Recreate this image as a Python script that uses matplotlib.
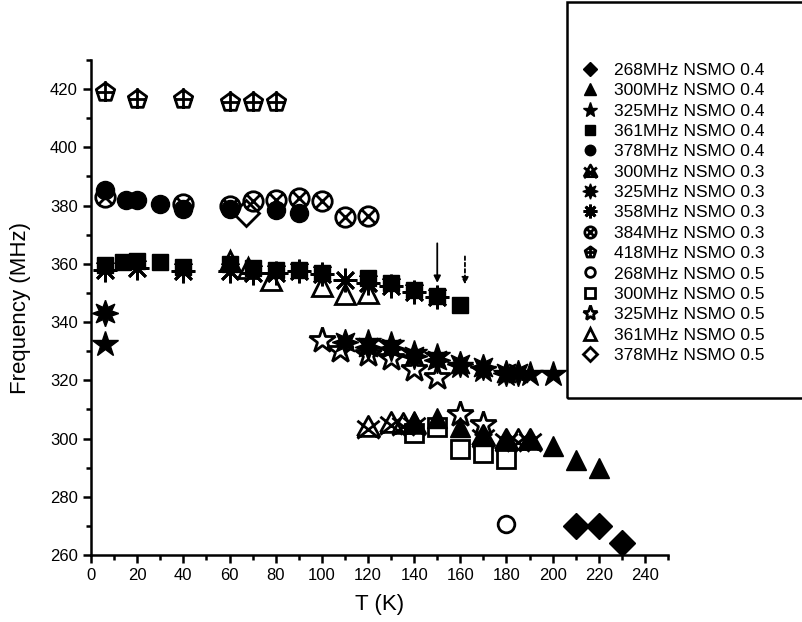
import numpy as np
import matplotlib
matplotlib.use("Agg")
import matplotlib.pyplot as plt
from matplotlib.path import Path
from matplotlib.patches import Rectangle
from matplotlib.ticker import MultipleLocator

plt.rcParams['font.family'] = ['Liberation Sans', 'DejaVu Sans']

# ---- data (T in K, frequency in MHz) ----
t_268_04 = [210, 220, 230]
f_268_04 = [270, 270, 264]

t_300_04 = [140, 150, 160, 170, 180, 190, 200, 210, 220]
f_300_04 = [306, 307, 304, 301, 300, 300, 297.5, 292.5, 290]

t_325_04 = [6, 120, 130, 140, 150, 160, 170, 180, 190, 200]
f_325_04 = [332.5, 333, 332.5, 329.5, 328.5, 325, 323.5, 322, 322, 322]

t_361_04 = [6, 14, 20, 30, 40, 60, 70, 80, 90, 100, 120, 130, 140, 150, 160]
f_361_04 = [359.5, 360.5, 361, 360.5, 359, 360, 358.5, 358, 358, 357, 355, 353.5, 351, 349, 346]

t_378_04 = [6, 15, 20, 30, 40, 60, 80, 90]
f_378_04 = [385.5, 382, 382, 380.5, 379, 379, 378.5, 377.5]

t_300_03 = [120, 130, 135, 140, 170, 180, 185, 190]
f_300_03 = [304, 305.5, 305, 305, 301, 299.5, 299.5, 299.5]

t_325_03 = [6, 110, 120, 130, 140, 150, 160, 170, 180, 185]
f_325_03 = [343, 333, 331.5, 331, 328.5, 327, 325.5, 324.5, 322.5, 322.5]

t_358_03 = [6, 20, 40, 60, 70, 80, 90, 100, 110, 120, 130, 140, 150]
f_358_03 = [358, 358.5, 357.5, 357.5, 357, 357, 357.5, 356.5, 354.5, 353.5, 352.5, 350.5, 348.5]

t_384_03 = [6, 40, 60, 70, 80, 90, 100, 110, 120]
f_384_03 = [383, 380.5, 380, 381.5, 382, 382.5, 381.5, 376, 376.5]

t_418_03 = [6, 20, 40, 60, 70, 80]
f_418_03 = [419, 416.5, 416.5, 415.5, 415.5, 415.5]

t_268_05 = [180]
f_268_05 = [270.5]

t_300_05 = [140, 150, 160, 170, 180]
f_300_05 = [302, 304, 296.5, 295, 293]

t_325_05 = [100, 108, 120, 130, 140, 150, 160, 170]
f_325_05 = [334, 330.5, 329, 327.5, 324, 321, 308.5, 305]

t_361_05 = [60, 68, 78, 100, 110, 120]
f_361_05 = [361, 358.5, 354.5, 352.5, 349.5, 350]

t_378_05 = [67]
f_378_05 = [377.5]

# ---- custom marker shapes ----
M, L = Path.MOVETO, Path.LINETO

tri_x = Path([(-1, -0.8), (1, -0.8), (0, 1), (-1, -0.8),
              (-1, 0.6), (1, -1), (1, 0.6), (-1, -1)],
             [M, L, L, L, M, L, M, L])

c = 0.72
circ_x = Path.make_compound_path(
    Path.unit_circle(),
    Path([(-c, -c), (c, c), (-c, c), (c, -c)], [M, L, M, L]))

pent_plus = Path.make_compound_path(
    Path.unit_regular_polygon(5),
    Path([(0, 1.15), (0, -0.95), (-0.95, 0.0), (0.95, 0.0)], [M, L, M, L]))

fig = plt.figure(figsize=(8.02, 6.22), dpi=100)
ax = fig.add_axes([0.1135, 0.1077, 0.7195, 0.7958])

series = [
    (t_268_04, f_268_04, dict(marker='D', ms=13, mfc='k', mec='k'), '268MHz NSMO 0.4'),
    (t_300_04, f_300_04, dict(marker='^', ms=15, mfc='k', mec='k'), '300MHz NSMO 0.4'),
    (t_325_04, f_325_04, dict(marker='*', ms=19, mfc='k', mec='k'), '325MHz NSMO 0.4'),
    (t_361_04, f_361_04, dict(marker='s', ms=12, mfc='k', mec='k'), '361MHz NSMO 0.4'),
    (t_378_04, f_378_04, dict(marker='o', ms=13, mfc='k', mec='k'), '378MHz NSMO 0.4'),
    (t_300_03, f_300_03, dict(marker=tri_x, ms=16, mfc='none', mec='k', mew=2), '300MHz NSMO 0.3'),
    (t_325_03, f_325_03, dict(marker=(8, 1, 0), ms=19, mfc='k', mec='k'), '325MHz NSMO 0.3'),
    (t_358_03, f_358_03, dict(marker=(8, 2, 0), ms=17, mec='k', mew=2), '358MHz NSMO 0.3'),
    (t_384_03, f_384_03, dict(marker=circ_x, ms=14, mfc='none', mec='k', mew=2), '384MHz NSMO 0.3'),
    (t_418_03, f_418_03, dict(marker=pent_plus, ms=16, mfc='none', mec='k', mew=2), '418MHz NSMO 0.3'),
    (t_268_05, f_268_05, dict(marker='o', ms=12, mfc='none', mec='k', mew=2), '268MHz NSMO 0.5'),
    (t_300_05, f_300_05, dict(marker='s', ms=13, mfc='none', mec='k', mew=2), '300MHz NSMO 0.5'),
    (t_325_05, f_325_05, dict(marker='*', ms=19, mfc='none', mec='k', mew=2), '325MHz NSMO 0.5'),
    (t_361_05, f_361_05, dict(marker='^', ms=15, mfc='none', mec='k', mew=2), '361MHz NSMO 0.5'),
    (t_378_05, f_378_05, dict(marker='D', ms=13, mfc='none', mec='k', mew=2), '378MHz NSMO 0.5'),
]

for t, f, style, lab in series:
    ax.plot(t, f, ls='none', label=lab, **style)

# arrows
ax.annotate('', xy=(150, 352.5), xytext=(150, 368),
            arrowprops=dict(arrowstyle='-|>', color='k', lw=1.3, mutation_scale=10))
ax.annotate('', xy=(162, 352), xytext=(162, 363.5),
            arrowprops=dict(arrowstyle='-|>', color='k', lw=1.3, ls=(0, (2, 1.5)),
                            mutation_scale=10))

ax.set_xlim(0, 250)
ax.set_ylim(260, 430)
ax.xaxis.set_minor_locator(MultipleLocator(10))
ax.yaxis.set_minor_locator(MultipleLocator(10))
ax.set_xticks(np.arange(0, 241, 20))
ax.set_yticks(np.arange(260, 421, 20))
for s in ['top', 'right']:
    ax.spines[s].set_visible(False)
for s in ['left', 'bottom']:
    ax.spines[s].set_linewidth(1.8)
ax.tick_params(which='major', direction='out', length=6, width=1.8, labelsize=12)
ax.tick_params(which='minor', direction='out', length=3.5, width=1.8)
ax.set_xlabel('T (K)', fontsize=16, labelpad=8)
ax.set_ylabel('Frequency (MHz)', fontsize=16, labelpad=14)

# legend box that runs off the top/right edge
fig.patches.append(Rectangle((0.707, 0.36), 0.4, 0.637, transform=fig.transFigure,
                             fill=False, ec='k', lw=1.8))
small = [plt.Line2D([], [], ls='none', **dict(s[2], ms=s[2]['ms'] * 0.58)) for s in series]
fig.legend(small, [s[3] for s in series], loc='upper left',
           bbox_to_anchor=(0.712, 0.913), frameon=False, fontsize=12.5,
           labelspacing=0.3, handletextpad=0.8, handlelength=1.2, borderpad=0)

fig.savefig('out.png', dpi=100)
